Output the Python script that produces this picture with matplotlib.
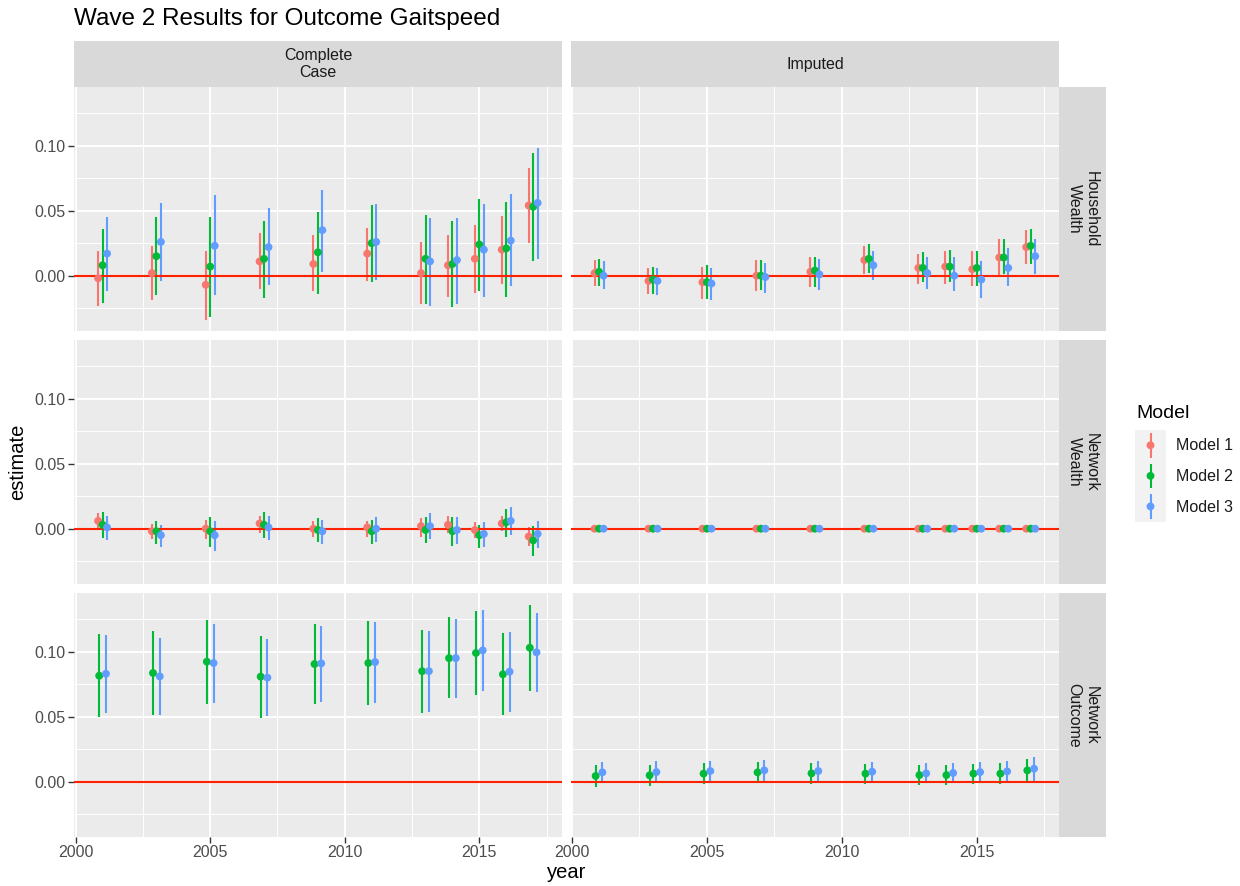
import matplotlib
matplotlib.use('Agg')
import numpy as np
import matplotlib.pyplot as plt

plt.rcParams['font.family'] = ['Liberation Sans', 'DejaVu Sans']

# === data ===
years = [2001, 2003, 2005, 2007, 2009, 2011, 2013, 2014, 2015, 2016, 2017]
models = ['Model 1', 'Model 2', 'Model 3']
model_colors = ['#F8766D', '#00BA38', '#619CFF']
col_labels = ['Complete\nCase', 'Imputed']
row_labels = ['Household\nWealth', 'Network\nWealth', 'Network\nOutcome']

# (estimate, lower, upper) per year
cc_hw_m1 = [(-0.002, -0.023, 0.019), (0.002, -0.019, 0.023), (-0.007, -0.034, 0.019),
            (0.011, -0.010, 0.033), (0.009, -0.012, 0.031), (0.017, -0.004, 0.037),
            (0.002, -0.022, 0.026), (0.008, -0.016, 0.031), (0.013, -0.013, 0.039),
            (0.020, -0.006, 0.046), (0.054, 0.025, 0.083)]
cc_hw_m2 = [(0.008, -0.021, 0.036), (0.015, -0.015, 0.045), (0.007, -0.032, 0.045),
            (0.013, -0.017, 0.042), (0.018, -0.014, 0.049), (0.025, -0.005, 0.054),
            (0.013, -0.022, 0.047), (0.009, -0.024, 0.042), (0.024, -0.012, 0.059),
            (0.021, -0.016, 0.057), (0.053, 0.011, 0.094)]
cc_hw_m3 = [(0.017, -0.012, 0.045), (0.026, -0.004, 0.056), (0.023, -0.015, 0.062),
            (0.022, -0.007, 0.052), (0.035, 0.003, 0.066), (0.026, -0.003, 0.055),
            (0.011, -0.023, 0.044), (0.012, -0.022, 0.044), (0.020, -0.016, 0.055),
            (0.027, -0.008, 0.063), (0.056, 0.013, 0.098)]

im_hw_m1 = [(0.002, -0.008, 0.012), (-0.004, -0.014, 0.006), (-0.005, -0.018, 0.007),
            (0.000, -0.012, 0.012), (0.003, -0.009, 0.014), (0.012, 0.001, 0.023),
            (0.006, -0.006, 0.017), (0.007, -0.006, 0.019), (0.005, -0.008, 0.019),
            (0.014, 0.000, 0.028), (0.022, 0.009, 0.035)]
im_hw_m2 = [(0.003, -0.008, 0.013), (-0.003, -0.014, 0.007), (-0.005, -0.018, 0.008),
            (0.000, -0.011, 0.012), (0.004, -0.009, 0.014), (0.013, 0.002, 0.024),
            (0.006, -0.005, 0.018), (0.007, -0.005, 0.020), (0.006, -0.008, 0.019),
            (0.014, 0.001, 0.028), (0.023, 0.009, 0.036)]
im_hw_m3 = [(0.000, -0.010, 0.011), (-0.004, -0.015, 0.006), (-0.006, -0.019, 0.006),
            (-0.001, -0.013, 0.010), (0.001, -0.011, 0.013), (0.008, -0.003, 0.019),
            (0.002, -0.010, 0.014), (0.000, -0.012, 0.014), (-0.003, -0.017, 0.011),
            (0.006, -0.008, 0.021), (0.015, 0.001, 0.028)]

cc_nw_m1 = [(0.006, 0.000, 0.012), (-0.002, -0.008, 0.004), (0.000, -0.008, 0.007),
            (0.004, -0.003, 0.010), (0.000, -0.006, 0.006), (0.001, -0.006, 0.006),
            (0.002, -0.006, 0.008), (0.003, -0.003, 0.010), (-0.001, -0.007, 0.005),
            (0.004, -0.002, 0.010), (-0.006, -0.013, 0.001)]
cc_nw_m2 = [(0.003, -0.007, 0.013), (-0.002, -0.012, 0.006), (-0.002, -0.014, 0.009),
            (0.003, -0.007, 0.013), (-0.001, -0.010, 0.008), (-0.002, -0.012, 0.007),
            (-0.001, -0.011, 0.009), (-0.002, -0.013, 0.009), (-0.005, -0.015, 0.003),
            (0.005, -0.006, 0.015), (-0.009, -0.021, 0.002)]
cc_nw_m3 = [(0.001, -0.009, 0.010), (-0.005, -0.014, 0.003), (-0.005, -0.017, 0.006),
            (0.001, -0.009, 0.010), (-0.002, -0.012, 0.007), (0.000, -0.010, 0.009),
            (0.002, -0.008, 0.012), (-0.001, -0.012, 0.009), (-0.004, -0.014, 0.005),
            (0.006, -0.005, 0.017), (-0.004, -0.015, 0.006)]

im_nw_m1 = [(0.0, -0.0005, 0.0005)] * 11
im_nw_m2 = [(0.0, -0.0005, 0.0005)] * 11
im_nw_m3 = [(0.0, -0.0005, 0.0005)] * 11

cc_no_m2 = [(0.0815, 0.0497, 0.1136), (0.0836, 0.0510, 0.1156), (0.0923, 0.0597, 0.1246),
            (0.0808, 0.0492, 0.1118), (0.0905, 0.0600, 0.1210), (0.0913, 0.0590, 0.1233),
            (0.0850, 0.0530, 0.1170), (0.0950, 0.0640, 0.1267), (0.0990, 0.0670, 0.1310),
            (0.0826, 0.0510, 0.1144), (0.1030, 0.0700, 0.1356)]
cc_no_m3 = [(0.0830, 0.0528, 0.1126), (0.0810, 0.0513, 0.1108), (0.0913, 0.0605, 0.1215),
            (0.0800, 0.0508, 0.1097), (0.0910, 0.0613, 0.1200), (0.0920, 0.0608, 0.1228),
            (0.0850, 0.0536, 0.1160), (0.0950, 0.0640, 0.1250), (0.1010, 0.0700, 0.1320),
            (0.0846, 0.0538, 0.1149), (0.0995, 0.0687, 0.1300)]

im_no_m2 = [(0.0044, -0.0044, 0.0128), (0.0049, -0.0036, 0.0130), (0.0062, -0.0020, 0.0144),
            (0.0072, -0.0005, 0.0150), (0.0064, -0.0015, 0.0140), (0.0062, -0.0015, 0.0136),
            (0.0051, -0.0028, 0.0128), (0.0051, -0.0026, 0.0128), (0.0062, -0.0015, 0.0138),
            (0.0062, -0.0020, 0.0140), (0.0087, 0.0000, 0.0174)]
im_no_m3 = [(0.0072, -0.0013, 0.0154), (0.0074, -0.0013, 0.0156), (0.0082, 0.0000, 0.0160),
            (0.0087, 0.0005, 0.0164), (0.0082, 0.0005, 0.0156), (0.0077, 0.0000, 0.0151),
            (0.0064, -0.0013, 0.0140), (0.0067, -0.0013, 0.0140), (0.0074, 0.0000, 0.0149),
            (0.0079, 0.0000, 0.0156), (0.0100, 0.0008, 0.0187)]

panels = {
    (0, 0): [cc_hw_m1, cc_hw_m2, cc_hw_m3],
    (0, 1): [im_hw_m1, im_hw_m2, im_hw_m3],
    (1, 0): [cc_nw_m1, cc_nw_m2, cc_nw_m3],
    (1, 1): [im_nw_m1, im_nw_m2, im_nw_m3],
    (2, 0): [None, cc_no_m2, cc_no_m3],
    (2, 1): [None, im_no_m2, im_no_m3],
}

# === layout (pixels) ===
W, H = 1240, 886
cols_px = [(74.3, 561.7), (570.7, 1059.3)]
rows_px = [(87.3, 330.7), (340.3, 583.7), (593.3, 836.7)]
strip_top = 41.0
strip_right = 1106.0

BG = '#EBEBEB'
STRIP = '#D9D9D9'
TXT = '#1A1A1A'
TICK = '#4D4D4D'

fig = plt.figure(figsize=(W / 100, H / 100), dpi=100)


def px_axes(x0, y0, x1, y1):
    return fig.add_axes([x0 / W, 1 - y1 / H, (x1 - x0) / W, (y1 - y0) / H])


for (r, c), series in panels.items():
    x0, x1 = cols_px[c]
    y0, y1 = rows_px[r]
    ax = px_axes(x0, y0, x1, y1)
    ax.set_facecolor(BG)
    for s in ax.spines.values():
        s.set_visible(False)
    ax.set_xlim(1999.95, 2018.06)
    ax.set_ylim(-0.0423, 0.1449)
    ax.set_xticks([2000, 2005, 2010, 2015])
    ax.set_xticks([2002.5, 2007.5, 2012.5, 2017.5], minor=True)
    ax.set_yticks([0.0, 0.05, 0.10])
    ax.set_yticks([-0.025, 0.025, 0.075, 0.125], minor=True)
    ax.grid(True, which='major', color='white', lw=1.4)
    ax.grid(True, which='minor', color='white', lw=0.7)
    ax.set_axisbelow(True)
    ax.tick_params(which='minor', length=0)
    ax.tick_params(which='major', length=4, width=1, color='#333333',
                   labelcolor=TICK, labelsize=11.5, pad=2)
    if c == 0:
        ax.set_yticklabels(['0.00', '0.05', '0.10'])
    else:
        ax.tick_params(axis='y', length=0, labelleft=False)
    if r < 2:
        ax.tick_params(axis='x', length=0, labelbottom=False)

    ax.axhline(0, color='#FF2200', lw=1.5, zorder=2.5)

    present = [i for i, s in enumerate(series) if s is not None]
    n = len(present)
    width = 0.5
    for k, i in enumerate(present):
        arr = np.array(series[i])
        xs = np.array(years) + (k - (n - 1) / 2) * width / n
        ax.vlines(xs, arr[:, 1], arr[:, 2], color=model_colors[i], lw=1.5, zorder=2)
        ax.scatter(xs, arr[:, 0], s=32, color=model_colors[i], zorder=3 + i * 0.1,
                   edgecolors='none')

    # top strips
    if r == 0:
        sax = px_axes(x0, strip_top, x1, y0)
        sax.set_facecolor(STRIP)
        sax.set_xticks([]); sax.set_yticks([])
        for s in sax.spines.values():
            s.set_visible(False)
        sax.text(0.5, 0.5, col_labels[c], ha='center', va='center', fontsize=11.5,
                 color=TXT, linespacing=1.15, transform=sax.transAxes)
    # right strips
    if c == 1:
        sax = px_axes(x1, y0, strip_right, y1)
        sax.set_facecolor(STRIP)
        sax.set_xticks([]); sax.set_yticks([])
        for s in sax.spines.values():
            s.set_visible(False)
        sax.text(0.5, 0.5, row_labels[r], ha='center', va='center', fontsize=11.5,
                 color=TXT, rotation=-90, linespacing=1.15, transform=sax.transAxes)

# titles
fig.text(74.3 / W, 1 - 19 / H, 'Wave 2 Results for Outcome Gaitspeed', ha='left',
         va='center', fontsize=17.5, color='black')
fig.text(566.8 / W, 1 - 873 / H, 'year', ha='center', va='center', fontsize=14.5,
         color='black')
fig.text(18 / W, 1 - 462 / H, 'estimate', ha='center', va='center', fontsize=14.5,
         rotation=90, color='black')

# legend
fig.text(1136 / W, 1 - 413 / H, 'Model', ha='left', va='center', fontsize=14,
         color='black')
lax = px_axes(1135, 430, 1166, 521.7)
lax.set_facecolor('#F2F2F2')
lax.set_xticks([]); lax.set_yticks([])
for s in lax.spines.values():
    s.set_visible(False)
lax.set_xlim(0, 1)
lax.set_ylim(0, 3)
for i, (m, col) in enumerate(zip(models, model_colors)):
    yc = 2.5 - i
    lax.vlines(0.5, yc - 0.4, yc + 0.4, color=col, lw=1.5)
    lax.scatter([0.5], [yc], s=32, color=col, edgecolors='none', zorder=3)
    fig.text(1175.7 / W, 1 - (445.7 + i * 30.8) / H, m, ha='left', va='center',
             fontsize=11.5, color=TXT)

fig.savefig('out.png', dpi=100)
